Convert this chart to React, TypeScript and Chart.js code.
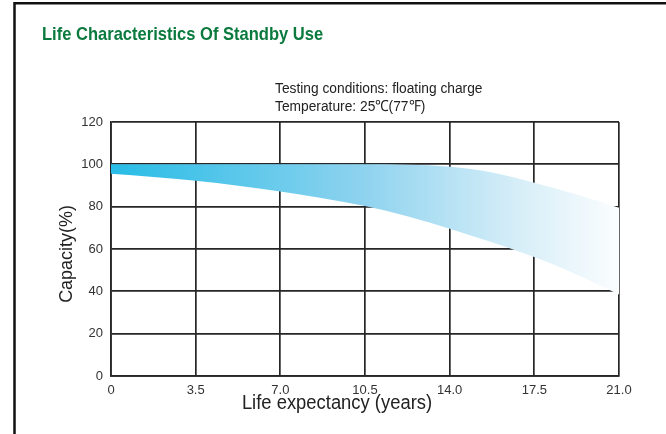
import React, { useEffect, useRef } from "react";
import { Chart, registerables } from "chart.js";

Chart.register(...registerables);

// ---- data ----
const years = [0, 1.75, 3.5, 5.25, 7, 8.75, 10.5, 12.25, 14, 15.75, 17.5, 19.25, 21];
const upperCapacity = [100, 100, 100, 100, 100, 100, 100, 99.8, 98.9, 96.2, 91.3, 85.7, 79.5];
const lowerCapacity = [95.5, 94, 92.2, 89.9, 87.2, 84, 80.3, 75.5, 69.6, 63.2, 56.2, 48, 38.5];
const xTickLabels = ["0", "3.5", "7.0", "10.5", "14.0", "17.5", "21.0"];
const yTickValues = [0, 20, 40, 60, 80, 100, 120];

const chartTitle = "Life Characteristics Of Standby Use";
const noteLines = ["Testing conditions: floating charge", "Temperature: 25\u2103(77\u2109)"];
const xAxisTitle = "Life expectancy (years)";
const yAxisTitle = "Capacity(%)";

const FONT = "'Liberation Sans', Arial, Helvetica, sans-serif";
const GRID = "#262626";

function drawText(
  ctx: CanvasRenderingContext2D,
  text: string,
  x: number,
  y: number,
  size: number,
  opts: { bold?: boolean; color?: string; sx?: number; sy?: number; align?: CanvasTextAlign; rotate?: number } = {}
) {
  ctx.save();
  ctx.translate(x, y);
  if (opts.rotate) ctx.rotate(opts.rotate);
  ctx.scale(opts.sx ?? 1, opts.sy ?? 1);
  ctx.font = `${opts.bold ? "bold " : ""}${size}px ${FONT}`;
  ctx.fillStyle = opts.color ?? "#222";
  ctx.textAlign = opts.align ?? "left";
  ctx.textBaseline = "alphabetic";
  ctx.fillText(text, 0, 0);
  ctx.restore();
}

const decorPlugin = {
  id: "decor",
  afterDraw(chart: any) {
    const ctx: CanvasRenderingContext2D = chart.ctx;
    // frame (top and left)
    ctx.save();
    ctx.strokeStyle = "#111";
    ctx.lineWidth = 2.5;
    ctx.beginPath();
    ctx.moveTo(14.5, 434);
    ctx.lineTo(14.5, 3.3);
    ctx.lineTo(666, 3.3);
    ctx.stroke();
    ctx.restore();

    drawText(ctx, chartTitle, 42, 40, 19, { bold: true, color: "#0b7a3e", sx: 0.87 });
    drawText(ctx, noteLines[0], 275, 93, 14.5, { color: "#222", sx: 0.95, sy: 1.06 });
    drawText(ctx, noteLines[1], 275, 110.5, 14.5, { color: "#222", sx: 0.95, sy: 1.06 });

    const area = chart.chartArea;
    drawText(ctx, xAxisTitle, (area.left + area.right) / 2 - 28, 409, 20, {
      color: "#222",
      sx: 0.92,
      sy: 1.05,
      align: "center",
    });
    drawText(ctx, yAxisTitle, 72, (area.top + area.bottom) / 2 + 5, 18.5, {
      color: "#222",
      sx: 0.97,
      align: "center",
      rotate: -Math.PI / 2,
    });
  },
};

export default function App() {
  const ref = useRef<HTMLCanvasElement | null>(null);

  useEffect(() => {
    if (!ref.current) return;
    const bandFill = (c: any) => {
      const chart = c.chart;
      const a = chart.chartArea;
      if (!a) return "rgba(40,188,230,0.6)";
      const g = chart.ctx.createLinearGradient(a.left, 0, a.right, 0);
      g.addColorStop(0, "#27bce6");
      g.addColorStop(0.5, "#8fd3ef");
      g.addColorStop(0.8, "#d6eef8");
      g.addColorStop(1, "#fbfdfe");
      return g;
    };

    const chart = new Chart(ref.current, {
      type: "line",
      data: {
        datasets: [
          {
            label: "upper",
            data: years.map((x, i) => ({ x, y: upperCapacity[i] })),
            borderWidth: 0,
            borderColor: "rgba(0,0,0,0)",
            pointRadius: 0,
            backgroundColor: bandFill,
            fill: "+1",
            cubicInterpolationMode: "monotone",
          },
          {
            label: "lower",
            data: years.map((x, i) => ({ x, y: lowerCapacity[i] })),
            borderWidth: 0,
            borderColor: "rgba(0,0,0,0)",
            pointRadius: 0,
            backgroundColor: bandFill,
            fill: false,
            cubicInterpolationMode: "monotone",
          },
        ],
      },
      options: {
        animation: false,
        responsive: false,
        devicePixelRatio: 1,
        layout: { padding: { left: 0, right: 47, top: 122, bottom: 0 } },
        plugins: {
          legend: { display: false },
          tooltip: { enabled: false },
          title: { display: false },
        },
        scales: {
          x: {
            type: "linear",
            min: 0,
            max: 21,
            z: 1,
            afterFit: (s: any) => {
              s.height = 58;
            },
            ticks: {
              stepSize: 3.5,
              padding: 7,
              color: "#333",
              font: { family: FONT, size: 13 },
              maxRotation: 0,
              callback: (_v: any, i: number) => xTickLabels[i],
            },
            grid: { color: GRID, lineWidth: 1.7, drawTicks: false },
            border: { color: GRID, width: 1.7 },
          },
          y: {
            min: 0,
            max: 120,
            afterFit: (s: any) => {
              s.width = 111;
            },
            afterBuildTicks: (s: any) => {
              s.ticks = yTickValues.map((v) => ({ value: v }));
            },
            ticks: {
              padding: 8,
              color: "#333",
              font: { family: FONT, size: 13 },
            },
            grid: { color: GRID, lineWidth: 1.7, drawTicks: false },
            border: { color: GRID, width: 1.7 },
          },
        },
      },
      plugins: [decorPlugin],
    } as any);
    return () => chart.destroy();
  }, []);

  return (
    <div style={{ position: "absolute", left: 0, top: 0, width: 666, height: 434, background: "#fff" }}>
      <canvas ref={ref} width={666} height={434} style={{ display: "block", width: 666, height: 434 }} />
    </div>
  );
}
